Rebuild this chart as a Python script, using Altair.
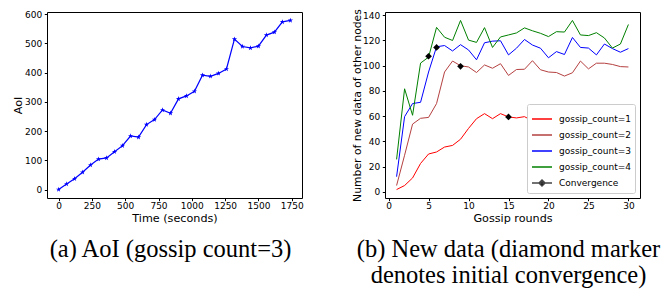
import altair as alt
import pandas as pd

# ---------------- data ----------------
time_s = [0, 60, 120, 180, 240, 300, 360, 420, 480, 540, 600, 660, 720, 780, 840,
          900, 960, 1020, 1080, 1140, 1200, 1260, 1320, 1380, 1440, 1500, 1560, 1620, 1680, 1740]
aoi = [0, 19, 37, 59, 84, 104, 108, 129, 150, 183, 179, 222, 239, 272, 261,
       310, 320, 336, 391, 387, 397, 412, 514, 489, 484, 490, 528, 538, 573, 578]
aoi_x_ticks = [0, 250, 500, 750, 1000, 1250, 1500, 1750]
aoi_y_ticks = [0, 100, 200, 300, 400, 500, 600]

rounds = list(range(1, 31))
g1 = [1.8, 5, 11, 22.5, 30, 31.6, 35.5, 36.8, 41.7, 50.3, 58, 62, 58, 62, 59.4,
      58.6, 59.6, 56.3, 56.5, 65, 60, 60.2, 65, 63, 60.7, 61, 66.4, 63.5, 63.3, 58]
g2 = [5, 29, 53.7, 58.3, 59, 70, 95, 103.7, 100, 99, 94.6, 100.6, 98, 101.6, 92.3,
      97, 97.2, 104, 96.8, 95, 94.6, 91.8, 94.4, 103.7, 97.5, 102, 102, 101, 99.3, 99]
g3 = [12, 59.6, 70, 71, 95, 115, 116, 111.7, 116.7, 112.5, 104.7, 118.2, 119.5, 119.8, 108.6,
      113.9, 120.8, 116.4, 113.9, 106.3, 111.2, 108.9, 122.4, 114.5, 114, 108.6, 117.2, 113.6, 110.7, 113.6]
g4 = [25.7, 81.7, 60.7, 102.1, 106.8, 130.4, 122.6, 120, 135.9, 120.3, 118.5, 130.2, 114.5, 122.8, 124.4,
      126, 130, 127.7, 125.7, 123.1, 127, 126.7, 135.9, 124.4, 123.9, 126.2, 122, 114, 117.2, 132.7]
conv_rounds = [5, 6, 9, 15]
conv_values = [107.5, 114.5, 99.5, 59.4]
round_ticks = [0, 5, 10, 15, 20, 25, 30]
new_y_ticks = [0, 20, 40, 60, 80, 100, 120, 140]

series_names = ["gossip_count=1", "gossip_count=2", "gossip_count=3", "gossip_count=4", "Convergence"]
series_colors = ["#ff0000", "#b54040", "#0000ff", "#008000", "#444444"]

STAR = ("M0,-1L0.2233,-0.3074L0.9511,-0.309L0.3614,0.1174L0.5878,0.809L0,0.38"
        "L-0.5878,0.809L-0.3614,0.1174L-0.9511,-0.309L-0.2233,-0.3074Z")
CONV_SYM = "M-1,0H1M0,-0.3L0.3,0L0,0.3L-0.3,0Z"
series_shapes = ["stroke", "stroke", "stroke", "stroke", CONV_SYM]

SANS = "DejaVu Sans"
SERIF = "Liberation Serif"

# ---------------- left panel ----------------
left_df = pd.DataFrame({"t": time_s, "aoi": aoi})
left = alt.Chart(left_df).mark_line(
    color="#0000ff", strokeWidth=1.2,
    point=alt.OverlayMarkDef(shape=STAR, size=30, filled=True, color="#0000ff"),
).encode(
    x=alt.X("t:Q", scale=alt.Scale(domain=[-87, 1827], nice=False, zero=False),
            axis=alt.Axis(values=aoi_x_ticks, format="d", title="Time (seconds)")),
    y=alt.Y("aoi:Q", scale=alt.Scale(domain=[-28.9, 606.9], nice=False, zero=False),
            axis=alt.Axis(values=aoi_y_ticks, format="d", title="AoI", titlePadding=1)),
).properties(
    width=255, height=186,
    title=alt.TitleParams(text="(a) AoI (gossip count=3)", orient="bottom", anchor="middle",
                          font=SERIF, fontSize=24.5, fontWeight="normal", color="black",
                          offset=15, dx=-4),
)

# ---------------- right panel ----------------
rows = []
for name, vals in zip(series_names[:4], [g1, g2, g3, g4]):
    for r, v in zip(rounds, vals):
        rows.append({"round": r, "value": v, "series": name})
lines_df = pd.DataFrame(rows)
conv_df = pd.DataFrame({"round": conv_rounds, "value": conv_values,
                        "series": ["Convergence"] * len(conv_rounds)})

legend = alt.Legend(
    title=None, orient="bottom-right", offset=5,
    symbolSize=400, symbolStrokeWidth=1.5, symbolOpacity=1,
    labelFont=SANS, labelFontSize=9, labelColor="black", labelOffset=6,
    fillColor="white", strokeColor="#cccccc", padding=4, rowPadding=-5, cornerRadius=2,
)
color_scale = alt.Scale(domain=series_names, range=series_colors)
shape_scale = alt.Scale(domain=series_names, range=series_shapes)

xr = alt.X("round:Q", scale=alt.Scale(domain=[-0.45, 31.45], nice=False, zero=False),
           axis=alt.Axis(values=round_ticks, format="d", title="Gossip rounds"))
yr = alt.Y("value:Q", scale=alt.Scale(domain=[-4.9, 142.6], nice=False, zero=False),
           axis=alt.Axis(values=new_y_ticks, format="d", title="Number of new data of other nodes",
                         titlePadding=0, titleFontSize=10.8))

# legend carrier (invisible marks at the convergence points) -- first so its legend settings win
legend_layer = alt.Chart(conv_df).mark_point(filled=False, fill="black", opacity=0).encode(
    x=xr, y=yr,
    color=alt.Color("series:N", scale=color_scale, legend=legend),
    shape=alt.Shape("series:N", scale=shape_scale, legend=legend),
)
lines = alt.Chart(lines_df).mark_line(strokeWidth=1).encode(
    x=xr, y=yr,
    color=alt.Color("series:N", scale=color_scale, legend=legend),
)
pts = alt.Chart(conv_df).mark_point(shape="diamond", filled=True, size=45, color="black", opacity=1).encode(
    x=xr, y=yr,
)
right = alt.layer(legend_layer, lines, pts).properties(
    width=255, height=186,
    title=alt.TitleParams(text=["(b) New data (diamond marker", "denotes initial convergence)"],
                          orient="bottom", anchor="middle", font=SERIF, fontSize=24.5,
                          fontWeight="normal", color="black", lineHeight=26, offset=15, dx=-4),
)

chart = alt.hconcat(left, right, spacing=47).resolve_legend(
    color="independent", shape="independent"
).resolve_scale(
    color="independent", shape="independent"
).configure(
    padding={"left": 4, "top": 0, "right": 0, "bottom": 0}
).configure_view(
    stroke="black", strokeWidth=1
).configure_axis(
    labelFont=SANS, labelFontSize=9, labelColor="black",
    titleFont=SANS, titleFontSize=11.2, titleFontWeight="normal", titleColor="black",
    tickColor="black", tickSize=2.7, domain=False, grid=False,
).configure_axisX(
    labelPadding=0.5, titlePadding=2,
).configure_axisY(
    labelPadding=2.5,
)

chart.save("out.html", embed_options={"renderer": "svg", "actions": False})
